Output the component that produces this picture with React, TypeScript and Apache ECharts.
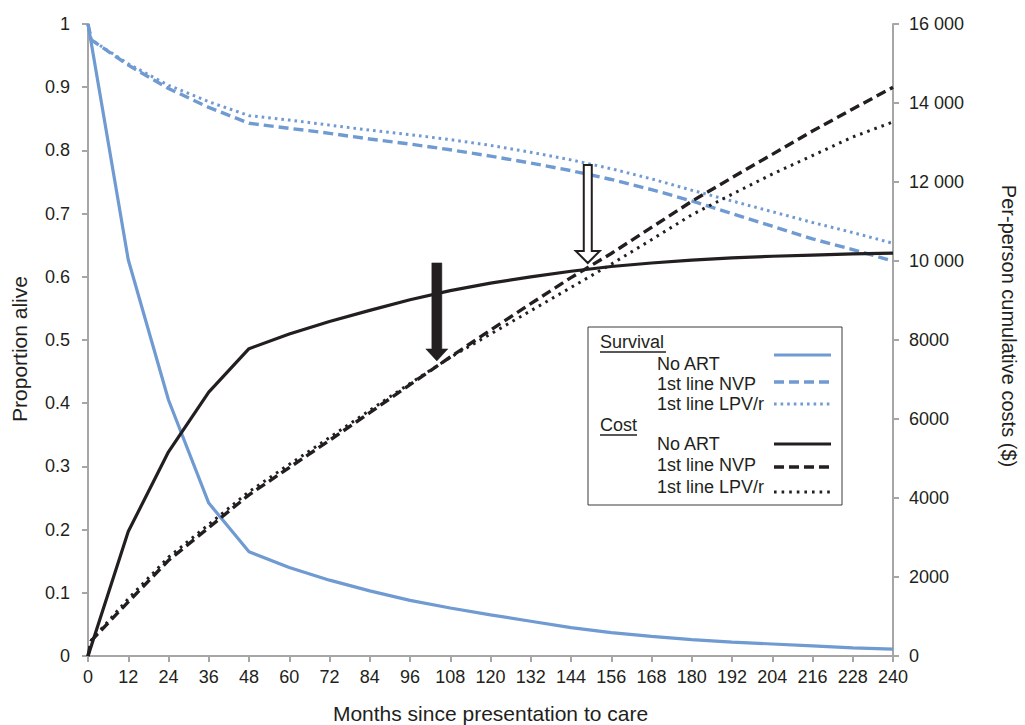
import React, { useEffect, useRef } from "react";
import * as echarts from "echarts";

// ---- data ----
const months = [0, 1, 12, 24, 36, 48, 60, 72, 84, 96, 108, 120, 132, 144, 156, 168, 180, 192, 204, 216, 228, 240];

const survNoArt = [1, 0.969, 0.627, 0.405, 0.242, 0.165, 0.14, 0.12, 0.103, 0.088, 0.076, 0.065, 0.055, 0.045, 0.037, 0.031, 0.026, 0.022, 0.019, 0.016, 0.013, 0.011];
const survNvp = [1, 0.975, 0.935, 0.898, 0.868, 0.843, 0.835, 0.827, 0.818, 0.81, 0.801, 0.791, 0.78, 0.768, 0.754, 0.738, 0.72, 0.7, 0.68, 0.66, 0.643, 0.625];
const survLpv = [1, 0.975, 0.937, 0.903, 0.877, 0.855, 0.848, 0.84, 0.832, 0.825, 0.817, 0.808, 0.797, 0.785, 0.771, 0.755, 0.737, 0.72, 0.703, 0.686, 0.67, 0.653];

const costNoArt = [0, 262, 3150, 5170, 6680, 7780, 8150, 8470, 8750, 9020, 9250, 9440, 9600, 9740, 9860, 9950, 10020, 10080, 10120, 10150, 10180, 10200];
const costNvp = [0, 390, 1370, 2420, 3250, 4080, 4770, 5460, 6160, 6870, 7570, 8250, 8920, 9580, 10190, 10850, 11510, 12110, 12700, 13290, 13850, 14400];
const costLpv = [0, 400, 1450, 2500, 3330, 4160, 4850, 5530, 6220, 6900, 7560, 8150, 8740, 9330, 9920, 10540, 11170, 11690, 12200, 12670, 13140, 13520];

const xTickStep = 12;
const propTickStep = 0.1;
const costTickStep = 2000;

const legendTitles = ["Survival", "Cost"];
const legendItems = ["No ART", "1st line NVP", "1st line LPV/r"];

// arrows: [month, top (proportion alive), tip (cost)]
const arrowMonths = [104, 149];
const arrowTopProp = [0.622, 0.777];
const arrowTipCost = [7470, 9950];

const BLUE = "#6f9ad2";
const BLACK = "#231f20";
const AXIS = "#a6a6a6";
const FONT = "'Liberation Sans', Arial, Helvetica, sans-serif";

const styles = {
  solid: { type: "solid" as any, width: 3.2 },
  dashed: { type: [10, 5] as any, width: 3.4 },
  dottedBlue: { type: [2.6, 4] as any, width: 3 },
  dottedBlack: { type: [2.6, 5] as any, width: 3 },
};

const seriesDefs = [
  { name: "Survival – No ART", axis: 0, values: survNoArt, color: BLUE, style: styles.solid },
  { name: "Survival – 1st line NVP", axis: 0, values: survNvp, color: BLUE, style: styles.dashed },
  { name: "Survival – 1st line LPV/r", axis: 0, values: survLpv, color: BLUE, style: styles.dottedBlue },
  { name: "Cost – No ART", axis: 1, values: costNoArt, color: BLACK, style: styles.solid },
  { name: "Cost – 1st line NVP", axis: 1, values: costNvp, color: BLACK, style: styles.dashed },
  { name: "Cost – 1st line LPV/r", axis: 1, values: costLpv, color: BLACK, style: styles.dottedBlack },
];

function fmtCost(v: number) {
  if (v >= 10000) {
    const s = String(Math.round(v));
    return s.slice(0, s.length - 3) + " " + s.slice(s.length - 3);
  }
  return String(Math.round(v));
}

export default function App() {
  const ref = useRef<HTMLDivElement>(null);
  useEffect(() => {
    if (!ref.current) return;
    const chart = echarts.init(ref.current, undefined, { renderer: "svg" });
    const axisLabel = { color: BLACK, fontSize: 18, fontFamily: FONT };
    const axisLine = { show: true, lineStyle: { color: AXIS, width: 2 } };
    const axisTick = { show: true, inside: false, length: 6, lineStyle: { color: AXIS, width: 2 } };
    const nameStyle = { color: BLACK, fontSize: 21, fontFamily: FONT };

    chart.setOption({
      animation: false,
      backgroundColor: "#ffffff",
      grid: { left: 88, right: 132, top: 24, bottom: 69, containLabel: false, outerBoundsMode: "none" },
      xAxis: {
        type: "value",
        min: 0,
        max: 240,
        interval: xTickStep,
        name: "Months since presentation to care",
        nameLocation: "middle",
        nameGap: 47,
        nameTextStyle: nameStyle,
        axisLine,
        axisTick,
        axisLabel: { ...axisLabel, margin: 12 },
        splitLine: { show: false },
      },
      yAxis: [
        {
          type: "value",
          min: 0,
          max: 1,
          interval: propTickStep,
          position: "left",
          name: "Proportion alive",
          nameLocation: "middle",
          nameGap: 58,
          nameTextStyle: { ...nameStyle, padding: [0, 18, 0, 0] },
          axisLine,
          axisTick,
          axisLabel: { ...axisLabel, margin: 18, formatter: (v: number) => String(+v.toFixed(1)) },
          splitLine: { show: false },
        },
        {
          type: "value",
          min: 0,
          max: 16000,
          interval: costTickStep,
          position: "right",
          name: "Per-person cumulative costs ($)",
          nameLocation: "middle",
          nameGap: 106,
          nameRotate: -90,
          nameTextStyle: { ...nameStyle, fontSize: 20, padding: [0, 28, 0, 0] },
          axisLine,
          axisTick,
          axisLabel: { ...axisLabel, margin: 16, formatter: (v: number) => fmtCost(v) },
          splitLine: { show: false },
        },
      ],
      series: seriesDefs.map((s) => ({
        name: s.name,
        type: "line",
        yAxisIndex: s.axis,
        data: months.map((m, i) => [m, s.values[i]]),
        showSymbol: false,
        symbol: "none",
        smooth: false,
        lineStyle: { color: s.color, width: s.style.width, type: s.style.type, cap: "butt" },
        itemStyle: { color: s.color },
        z: s.axis === 0 ? 3 : 4,
      })),
    });

    // ---- legend box (drawn as graphics) ----
    const g: any[] = [];
    const boxX = 588, boxY = 327, boxW = 254, boxH = 178;
    g.push({ type: "rect", shape: { x: boxX, y: boxY, width: boxW, height: boxH }, style: { fill: "#fff", stroke: "#3a3a3a", lineWidth: 1 }, z: 10 });
    const titleY = [342, 425];
    const itemY = [[364, 384, 404], [444, 465, 487]];
    const sampleY = [[355, 382, 404], [444, 467, 492]];
    const underlineW = [66, 37];
    legendTitles.forEach((t, gi) => {
      g.push({ type: "text", x: 600, y: titleY[gi], style: { text: t, font: `18px ${FONT}`, fill: BLACK, verticalAlign: "middle" }, z: 11 });
      g.push({ type: "line", shape: { x1: 600, y1: titleY[gi] + 10, x2: 600 + underlineW[gi], y2: titleY[gi] + 10 }, style: { stroke: BLACK, lineWidth: 1.3 }, z: 11 });
      legendItems.forEach((it, ii) => {
        const sd = seriesDefs[gi * 3 + ii];
        g.push({ type: "text", x: 657, y: itemY[gi][ii], style: { text: it, font: `18px ${FONT}`, fill: BLACK, verticalAlign: "middle" }, z: 11 });
        g.push({
          type: "line",
          shape: { x1: 774, y1: sampleY[gi][ii], x2: 831, y2: sampleY[gi][ii] },
          style: { stroke: sd.color, lineWidth: sd.style.width, lineDash: Array.isArray(sd.style.type) ? sd.style.type : null },
          z: 11,
        });
      });
    });

    // ---- arrows ----
    arrowMonths.forEach((m, i) => {
      const top = chart.convertToPixel({ xAxisIndex: 0, yAxisIndex: 0 }, [m, arrowTopProp[i]]) as number[];
      const tip = chart.convertToPixel({ xAxisIndex: 0, yAxisIndex: 1 }, [m, arrowTipCost[i]]) as number[];
      const x = top[0];
      const yTop = top[1];
      const yTip = tip[1];
      const headLen = 12;
      const shaftHalf = i === 0 ? 5 : 4;
      const headHalf = i === 0 ? 11 : 12;
      const yb = yTip - headLen;
      const pts = [
        [x - shaftHalf, yTop], [x + shaftHalf, yTop], [x + shaftHalf, yb], [x + headHalf, yb],
        [x, yTip], [x - headHalf, yb], [x - shaftHalf, yb],
      ];
      g.push({
        type: "polygon",
        shape: { points: pts },
        style: i === 0 ? { fill: BLACK, stroke: BLACK, lineWidth: 0.5 } : { fill: "#fff", stroke: BLACK, lineWidth: 2 },
        z: 12,
      });
    });

    chart.setOption({ graphic: g });
    return () => chart.dispose();
  }, []);
  return <div ref={ref} style={{ position: "fixed", left: 0, top: 0, width: 1025, height: 725, background: "#fff" }} />;
}
